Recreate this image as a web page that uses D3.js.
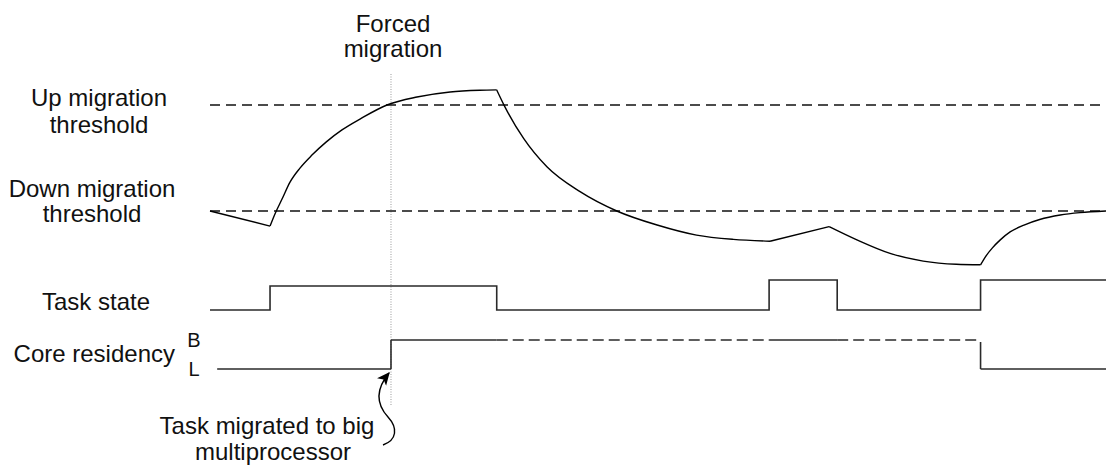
<!DOCTYPE html>
<html>
<head>
<meta charset="utf-8">
<script src="https://cdn.jsdelivr.net/npm/d3@7"></script>
<style>
  html, body { margin: 0; padding: 0; background: #fff; }
  svg { display: block; }
  text { font-family: "Liberation Sans", Arial, Helvetica, sans-serif; fill: #111; }
</style>
</head>
<body>
<div id="chart"></div>
<script>
// ---------- data (time in arbitrary units 0..100, load in arbitrary units) ----------
const thresholdNames = ["Up migration threshold", "Down migration threshold"];
const thresholdValues = [70, 30];

// load curve, split into segments (kinks between segments)
const loadSeg1 = [[0, 30], [6.7, 24.3]];
const loadSeg2 = [[6.7, 24.3], [7.25, 28.9], [8.04, 34.5], [8.93, 40.9], [10.04, 46.2], [11.38, 51.1],
                  [12.95, 56.0], [14.73, 60.6], [16.74, 64.7], [19.75, 70.0], [23.1, 73.0],
                  [26.8, 74.9], [30.1, 75.55], [32.0, 75.7]];
const loadSeg3 = [[32.0, 75.7], [32.9, 69.4], [35.0, 57.4], [37.6, 46.7], [41.3, 37.3], [45.4, 30.0],
                  [49.9, 24.7], [54.3, 20.9], [58.4, 19.3], [62.5, 18.6]];
const loadSeg4 = [[62.5, 18.6], [69.1, 24.1]];
const loadSeg5 = [[69.1, 24.1], [72.2, 19.1], [75.9, 14.0], [79.6, 11.1], [83.3, 9.9], [86.0, 9.7]];
const loadSeg6 = [[86.0, 9.7], [86.6, 13.0], [87.3, 16.0], [88.2, 19.1], [89.3, 22.1], [90.85, 24.7],
                  [92.6, 26.8], [94.9, 28.5], [97.1, 29.4], [100, 30.0]];
const loadSegments = [loadSeg1, loadSeg2, loadSeg3, loadSeg4, loadSeg5, loadSeg6];

// task state: step function (change times and level after each change)
const taskTimes  = [0, 6.7, 32.0, 62.4, 70.0, 86.0, 100];
const taskLevels = [0, 0.8, 0, 1, 0, 1];

// core residency segments
const coreStart  = [0.8, 20.2, 32.0, 62.4, 70.0, 86.0];
const coreEnd    = [20.2, 32.0, 62.4, 70.0, 85.6, 100];
const coreLevel  = ["L", "B", "B", "B", "B", "L"];
const coreDashed = [false, false, true, false, true, false];
const coreLevels = ["L", "B"];

const forcedMigrationTime = 20.2;

const rowLabels = ["Task state", "Core residency"];
const topLabel = ["Forced", "migration"];
const noteLabel = ["Task migrated to big", "multiprocessor"];

// ---------- drawing ----------
const W = 1106, H = 465;
const svg = d3.select("#chart").append("svg").attr("width", W).attr("height", H);

const x = d3.scaleLinear().domain([0, 100]).range([210, 1106]);
const yLoad = d3.scaleLinear().domain([30, 70]).range([211, 105]);
const yTask = d3.scaleLinear().domain([0, 1]).range([310, 280]);
const yCore = d3.scalePoint().domain(coreLevels).range([369, 340]);

const FS = 24;

// forced migration dotted guide
svg.append("line")
  .attr("x1", x(forcedMigrationTime)).attr("x2", x(forcedMigrationTime))
  .attr("y1", 74).attr("y2", 405)
  .attr("stroke", "#9a9a9a").attr("stroke-width", 1).attr("stroke-dasharray", "1,1.5");

// thresholds
svg.selectAll("line.thr").data(thresholdValues).join("line")
  .attr("class", "thr")
  .attr("x1", x(0)).attr("x2", x(100))
  .attr("y1", d => yLoad(d)).attr("y2", d => yLoad(d))
  .attr("stroke", "#111").attr("stroke-width", 1.3).attr("stroke-dasharray", "10,6");

// load curve
const loadLine = d3.line().x(d => x(d[0])).y(d => yLoad(d[1])).curve(d3.curveMonotoneX);
svg.selectAll("path.load").data(loadSegments).join("path")
  .attr("class", "load")
  .attr("d", loadLine)
  .attr("fill", "none").attr("stroke", "#000").attr("stroke-width", 1.4);

// task state
const taskPts = [];
for (let i = 0; i < taskLevels.length; i++) {
  taskPts.push([taskTimes[i], taskLevels[i]]);
  taskPts.push([taskTimes[i + 1], taskLevels[i]]);
}
svg.append("path")
  .attr("d", d3.line().x(d => x(d[0])).y(d => yTask(d[1]))(taskPts))
  .attr("fill", "none").attr("stroke", "#2a2a2a").attr("stroke-width", 1.6);

// core residency
coreStart.forEach((s, i) => {
  svg.append("line")
    .attr("x1", x(s)).attr("x2", x(coreEnd[i]))
    .attr("y1", yCore(coreLevel[i])).attr("y2", yCore(coreLevel[i]))
    .attr("stroke", "#2a2a2a").attr("stroke-width", 1.6)
    .attr("stroke-dasharray", coreDashed[i] ? "11,5" : null);
});
// transitions
svg.append("line")
  .attr("x1", x(coreStart[1])).attr("x2", x(coreStart[1]))
  .attr("y1", yCore("L")).attr("y2", yCore("B"))
  .attr("stroke", "#2a2a2a").attr("stroke-width", 1.6);
svg.append("line")
  .attr("x1", x(coreStart[5])).attr("x2", x(coreStart[5]))
  .attr("y1", yCore("B") + 2).attr("y2", yCore("L"))
  .attr("stroke", "#2a2a2a").attr("stroke-width", 1.6);

// ---------- text ----------
function label(txt, tx, ty, anchor, size) {
  svg.append("text").attr("x", tx).attr("y", ty)
    .attr("text-anchor", anchor || "middle")
    .attr("font-size", size || FS)
    .text(txt);
}
label(topLabel[0], x(forcedMigrationTime) + 2, 32);
label(topLabel[1], x(forcedMigrationTime) + 2, 57);

const upWords = thresholdNames[0].split(" ");
label(upWords.slice(0, 2).join(" "), 99, 106);
label(upWords[2], 99, 133);
const dnWords = thresholdNames[1].split(" ");
label(dnWords.slice(0, 2).join(" "), 92, 197);
label(dnWords[2], 92, 222);

label(rowLabels[0], 96, 310);
label(rowLabels[1], 175, 362, "end");
label(coreLevels[1], 194, 347, "middle", 20);
label(coreLevels[0], 194, 376, "middle", 20);

label(noteLabel[0], 267, 434);
label(noteLabel[1], 273, 460);

// arrow
const defs = svg.append("defs");
defs.append("marker").attr("id", "ah")
  .attr("viewBox", "0 0 10 10").attr("refX", 9).attr("refY", 5)
  .attr("markerWidth", 13).attr("markerHeight", 13)
  .attr("markerUnits", "userSpaceOnUse")
  .attr("orient", "auto")
  .append("path").attr("d", "M0,0.5 L10,5 L0,9.5 L2.5,5 Z").attr("fill", "#000");

svg.append("path")
  .attr("d", "M383,445 C397,440 398,428 388,417 C377,405 375,390 389,373")
  .attr("fill", "none").attr("stroke", "#000").attr("stroke-width", 1.4)
  .attr("marker-end", "url(#ah)");
</script>
</body>
</html>
